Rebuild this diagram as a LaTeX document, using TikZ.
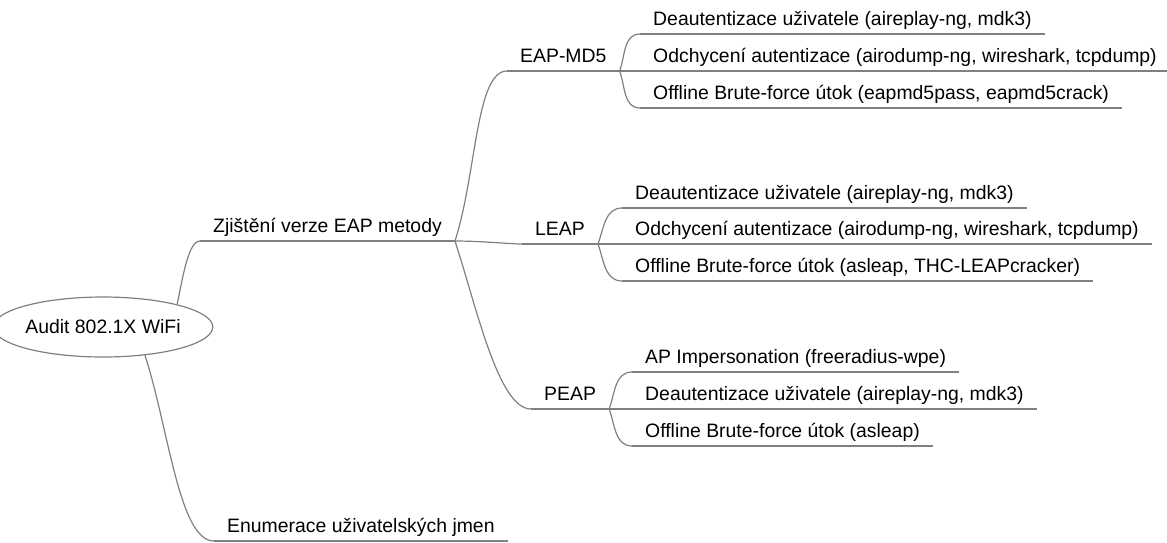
\documentclass[tikz,border=0pt]{standalone}
\usepackage{fontspec}
\setmainfont{Liberation Sans}
\usetikzlibrary{shapes}
\definecolor{linegray}{RGB}{128,128,128}

\begin{document}
\begin{tikzpicture}[
			x=1pt, y=-1pt,
			font=\fontsize{19.4}{22}\selectfont,
			topic/.style={anchor=south west, inner xsep=13pt, inner ysep=3.5pt, text depth=4.5pt},
			branch/.style={draw=linegray, line width=1.2pt},
			fork/.style={branch, in looseness=0.45},
			]
			\useasboundingbox (0,0) rectangle (1167,542);
			\node [ellipse,branch,minimum width=186pt,minimum height=60pt,inner sep=0pt] (root) at (103,327) {Audit 802.1X WiFi};
			\node [topic] (zji) at (200,241) {Zjištění verze EAP metody};
			\node [topic] (enum) at (214,541) {Enumerace uživatelských jmen};
			\node [topic] (md5) at (507,71) {EAP-MD5};
			\node [topic] (leap) at (522,244) {LEAP};
			\node [topic] (peap) at (531,409) {PEAP};
			\node [topic] (md5a) at (640,34) {Deautentizace uživatele (aireplay-ng, mdk3)};
			\node [topic] (md5b) at (640,71) {Odchycení autentizace (airodump-ng, wireshark, tcpdump)};
			\node [topic] (md5c) at (640,108) {Offline Brute-force útok (eapmd5pass, eapmd5crack)};
			\node [topic] (leapa) at (622,208) {Deautentizace uživatele (aireplay-ng, mdk3)};
			\node [topic] (leapb) at (622,244) {Odchycení autentizace (airodump-ng, wireshark, tcpdump)};
			\node [topic] (leapc) at (622,281) {Offline Brute-force útok (asleap, THC-LEAPcracker)};
			\node [topic] (peapa) at (632,372) {AP Impersonation (freeradius-wpe)};
			\node [topic] (peapb) at (632,409) {Deautentizace uživatele (aireplay-ng, mdk3)};
			\node [topic] (peapc) at (632,446) {Offline Brute-force útok (asleap)};
			% underlines
			\foreach \n in {zji,enum,md5,leap,peap,md5a,md5b,md5c,leapa,leapb,leapc,peapa,peapb,peapc}
				\draw [branch] (\n.south west) -- (\n.south east);
			% branches
			\draw [fork] (root.17) to[out=78,in=180] (zji.south west);
			\draw [fork] (root.-34) to[out=-72,in=180] (enum.south west);
			\draw [fork] (zji.south east) to[out=72,in=180] (md5.south west);
			\draw [fork] (zji.south east) to[out=0,in=180] (leap.south west);
			\draw [fork] (zji.south east) to[out=-72,in=180] (peap.south west);
			\foreach \p in {md5,leap,peap} {
				\draw [branch] (\p.south east) to[out=70,in=180] (\p a.south west);
				\draw [branch] (\p.south east) -- (\p b.south west);
				\draw [branch] (\p.south east) to[out=-70,in=180] (\p c.south west);
			}
		\end{tikzpicture}
\end{document}
